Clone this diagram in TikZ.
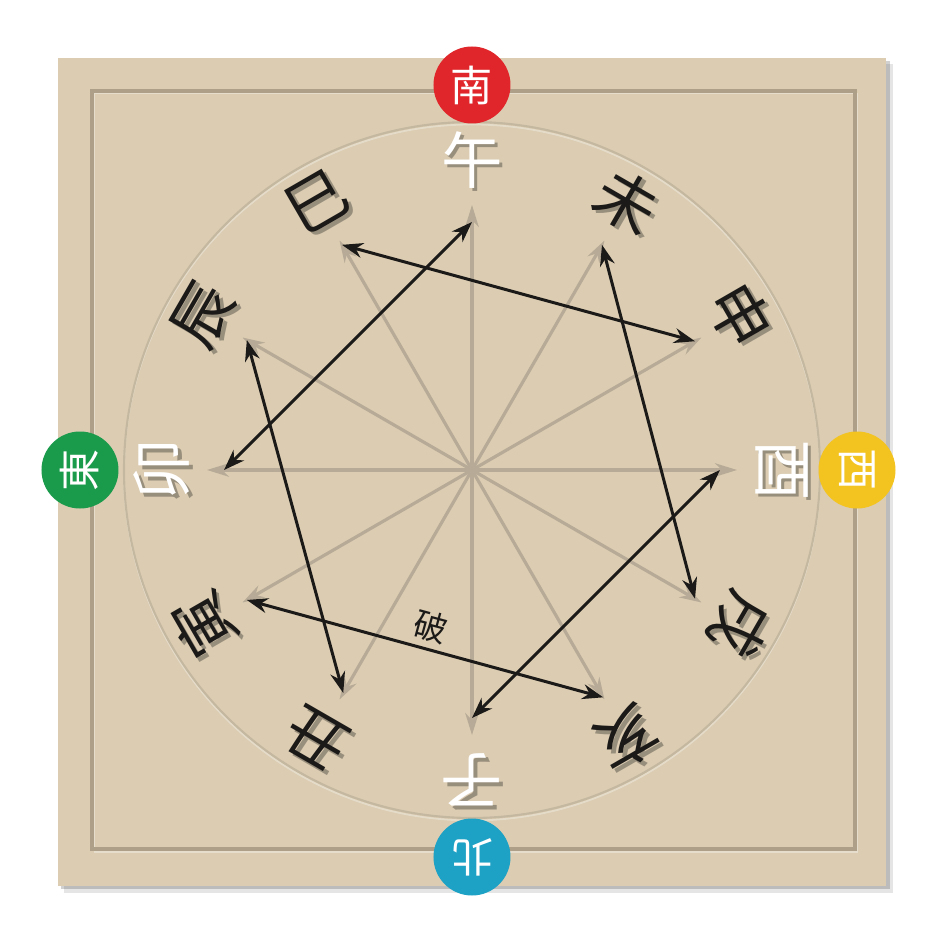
\documentclass[tikz,border=0pt]{standalone}
\usepackage{fontspec}
\newfontfamily\cjk{Noto Sans CJK TC}
\usetikzlibrary{arrows.meta}

\definecolor{board}{HTML}{DBCCB2}
\definecolor{frameline}{HTML}{AE9F89}
\definecolor{spoke}{HTML}{B7AB97}
\definecolor{ink}{HTML}{1C1A18}
\definecolor{southred}{HTML}{E0262A}
\definecolor{westyellow}{HTML}{F3C31F}
\definecolor{northblue}{HTML}{1DA1C4}
\definecolor{eastgreen}{HTML}{1A9A4B}

\tikzset{
  branch/.style={font=\cjk\fontsize{35}{35}\selectfont, inner sep=0pt},
  branchshadow/.style={branch, text=black, opacity=0.3},
  dir/.style={circle, minimum size=1.54cm, inner sep=0pt, text=white, font=\cjk\fontsize{24}{24}\selectfont},
  spokearrow/.style={spoke, line width=1.8pt, -{Stealth[length=0.44cm,width=0.27cm]}},
  po/.style={ink, line width=1.7pt, {Stealth[length=0.42cm,width=0.3cm]}-{Stealth[length=0.42cm,width=0.3cm]}}
}

\begin{document}
\begin{tikzpicture}
    \useasboundingbox (-9.44,-9.5) rectangle (9.46,9.4);

    % board with shadow
    \fill[black, opacity=0.10] (-8.16,-8.46) rectangle (8.42,8.12);
    \fill[black, opacity=0.18] (-8.22,-8.38) rectangle (8.35,8.18);
    \fill[board] (-8.28,-8.32) rectangle (8.28,8.24);
    \draw[white, opacity=0.35, line width=1pt] (-7.55,-7.64) rectangle (7.71,7.53);
    \draw[frameline, line width=2.2pt] (-7.6,-7.58) rectangle (7.66,7.58);
    \draw[white, opacity=0.3, line width=1pt] (0,-0.05) circle (6.96);
    \draw[board!90!black, line width=1.2pt] (0,0) circle (6.96);

    \coordinate (o) at (0,0);
    \foreach \a/\t/\c/\n/\r in {0/酉/white/you/4.96, 30/申/ink/shen/5.15, 60/未/ink/wei/5.2,
        90/午/white/wu/4.96, 120/巳/ink/si/5.2, 150/辰/ink/chen/5.2, 180/卯/white/mao/4.96,
        210/寅/ink/yin/5.2, 240/丑/ink/chou/5.15, 270/子/white/zi/4.96, 300/亥/ink/hai/5.25,
        330/戌/ink/xu/5.15}{
        \coordinate (s\n) at (\a:5.3);
        \coordinate (p\n) at (\a:\r);
        \draw[spokearrow] (o) -- (s\n);
        \node[branchshadow, rotate=\a-90] (\n-sh) at ([shift={(0.07,-0.07)}]\a:6.2) {\t};
        \node[branch, text=\c, rotate=\a-90] (\n) at (\a:6.2) {\t};
    }

    % six breaks
    \draw[po] (pmao) -- (pwu);
    \draw[po] (psi) -- (pshen);
    \draw[po] (pchen) -- (pchou);
    \draw[po] (pwei) -- (pxu);
    \draw[po] (pyou) -- (pzi);
    \draw[po] (pyin) -- node[above, sloped, text=ink, font=\cjk\fontsize{19}{19}\selectfont] (po) {破} (phai);

    \node[dir, fill=southred] (south) at (0,7.7) {南};
    \node[dir, fill=westyellow, rotate=-90] (west) at (7.7,0) {西};
    \node[dir, fill=northblue, rotate=180] (north) at (0,-7.74) {北};
    \node[dir, fill=eastgreen, rotate=90] (east) at (-7.84,0) {東};
\end{tikzpicture}
\end{document}
